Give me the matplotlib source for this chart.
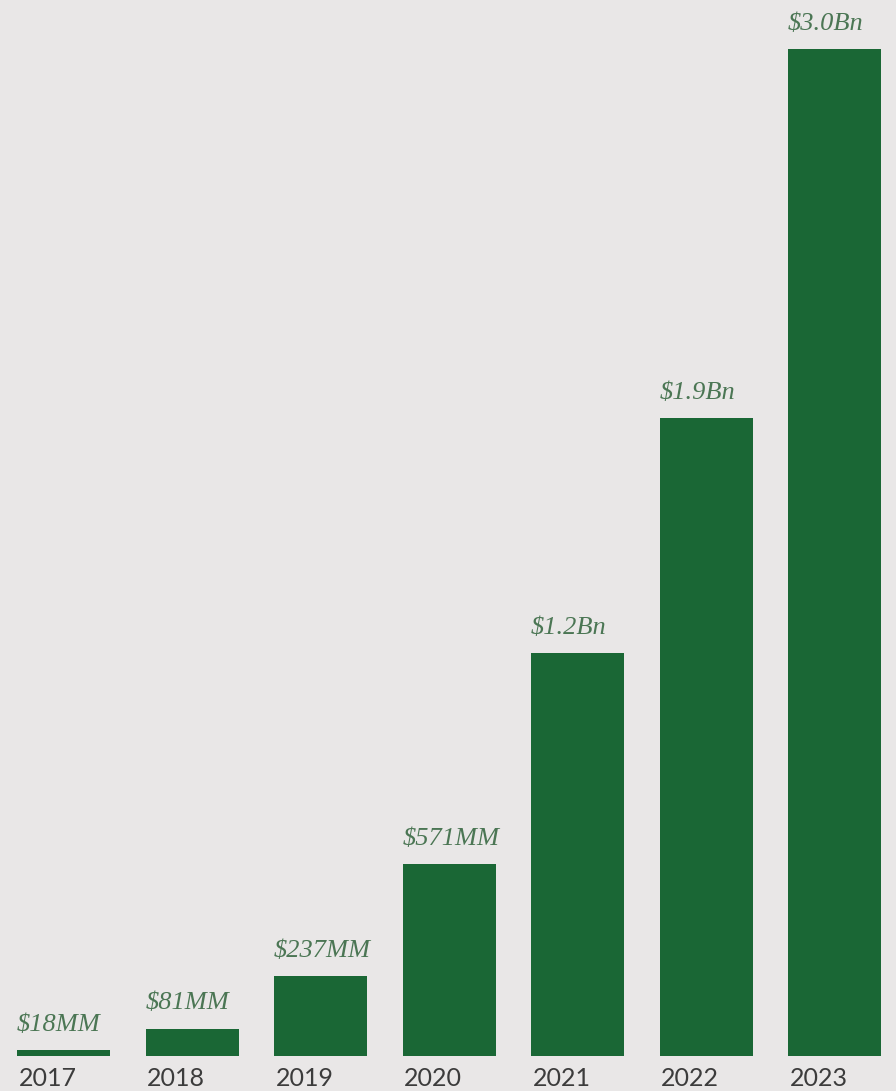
import matplotlib.pyplot as plt

years = ['2017', '2018', '2019', '2020', '2021', '2022', '2023']
values_bn = [0.018, 0.081, 0.237, 0.571, 1.2, 1.9, 3.0]
labels = ['$18MM', '$81MM', '$237MM', '$571MM', '$1.2Bn', '$1.9Bn', '$3.0Bn']

bg = '#e9e7e7'
bar_color = '#1a6735'
label_color = '#4b7654'
year_color = '#3c3c3c'

W, H = 896, 1091
fig = plt.figure(figsize=(W / 100, H / 100), dpi=100, facecolor=bg)

# axes spans the full width; bottom sits at the bar baseline
base_px = 1056
ax = fig.add_axes([0, (H - base_px) / H, 1, base_px / H])
ax.set_facecolor(bg)

step = 128.5
width = 93 / step
ax.set_xlim(-63.5 / step, (W - 63.5) / step)
px_per_bn = 1007 / 3.0
ax.set_ylim(0, base_px / px_per_bn)

xs = list(range(len(years)))
ax.bar(xs, values_bn, width=width, color=bar_color)

for x, v, lab, yr in zip(xs, values_bn, labels, years):
    left = x - width / 2
    ax.annotate(lab.replace('$', r'\$'), (left, v), xytext=(0, 14), textcoords='offset points',
                ha='left', va='baseline', fontsize=19, style='italic',
                family='Liberation Serif', color=label_color)
    ax.annotate(yr, (left, 0), xytext=(1, -8), textcoords='offset points',
                ha='left', va='top', fontsize=18, family='Lato',
                color=year_color, annotation_clip=False)

ax.axis('off')
fig.savefig('out.png', dpi=100, facecolor=bg)
